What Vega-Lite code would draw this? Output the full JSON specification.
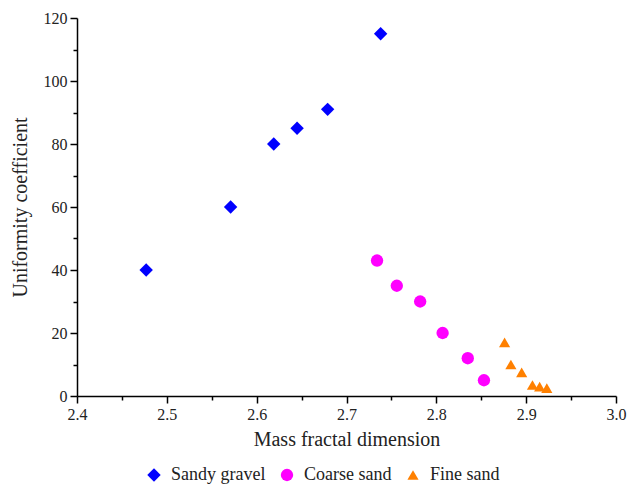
{
  "$schema": "https://vega.github.io/schema/vega-lite/v6.json",
  "width": 539,
  "height": 378,
  "autosize": "none",
  "padding": {"left": 77, "top": 18, "right": 12, "bottom": 92},
  "background": "white",
  "config": {
    "view": {"stroke": null},
    "font": "Liberation Serif",
    "axis": {"labelFont": "Liberation Serif", "titleFont": "Liberation Serif", "domainColor": "black", "tickColor": "black"},
    "legend": {"labelFont": "Liberation Serif"}
  },
  "data": {
    "values": [
      {"x": 2.477, "y": 40, "type": "Sandy gravel"},
      {"x": 2.571, "y": 60, "type": "Sandy gravel"},
      {"x": 2.619, "y": 80, "type": "Sandy gravel"},
      {"x": 2.645, "y": 85, "type": "Sandy gravel"},
      {"x": 2.679, "y": 91, "type": "Sandy gravel"},
      {"x": 2.738, "y": 115, "type": "Sandy gravel"},
      {"x": 2.734, "y": 43, "type": "Coarse sand"},
      {"x": 2.756, "y": 35, "type": "Coarse sand"},
      {"x": 2.782, "y": 30, "type": "Coarse sand"},
      {"x": 2.807, "y": 20, "type": "Coarse sand"},
      {"x": 2.835, "y": 12, "type": "Coarse sand"},
      {"x": 2.853, "y": 5, "type": "Coarse sand"},
      {"x": 2.876, "y": 17, "type": "Fine sand"},
      {"x": 2.883, "y": 10, "type": "Fine sand"},
      {"x": 2.895, "y": 7.5, "type": "Fine sand"},
      {"x": 2.907, "y": 3.5, "type": "Fine sand"},
      {"x": 2.915, "y": 3, "type": "Fine sand"},
      {"x": 2.923, "y": 2.5, "type": "Fine sand"}
    ]
  },
  "resolve": {"axis": {"x": "independent", "y": "independent"}},
  "layer": [
    {
      "mark": {"type": "point", "opacity": 0},
      "encoding": {
        "x": {
          "field": "x", "type": "quantitative",
          "scale": {"domain": [2.4, 3.0], "nice": false, "zero": false},
          "axis": {
            "orient": "bottom", "title": null, "labels": false, "domain": false, "grid": false,
            "values": [2.45, 2.55, 2.65, 2.75, 2.85, 2.95],
            "tickSize": 4, "tickColor": "#000000", "tickWidth": 1.5
          }
        },
        "y": {
          "field": "y", "type": "quantitative",
          "scale": {"domain": [0, 120], "nice": false},
          "axis": {
            "orient": "left", "title": null, "labels": false, "domain": false, "grid": false,
            "values": [10, 30, 50, 70, 90, 110],
            "tickSize": 4, "tickColor": "#000000", "tickWidth": 1.5
          }
        }
      }
    },
    {
      "mark": {"type": "point", "filled": true, "opacity": 1},
      "encoding": {
        "x": {
          "field": "x", "type": "quantitative",
          "scale": {"domain": [2.4, 3.0], "nice": false, "zero": false},
          "axis": {
            "orient": "bottom",
            "title": "Mass fractal dimension",
            "titleFontSize": 20, "titleFontWeight": "normal", "titleColor": "#222", "titlePadding": 7,
            "values": [2.4, 2.5, 2.6, 2.7, 2.8, 2.9, 3.0],
            "format": ".1f",
            "labelFontSize": 16, "labelColor": "#222", "labelPadding": 3,
            "tickSize": 7, "tickColor": "#000000", "tickWidth": 1.5, "tickOpacity": 1,
            "domainColor": "#000000", "domainWidth": 1.5, "domainOpacity": 1,
            "grid": false, "labelFlush": false, "labelOverlap": false
          }
        },
        "y": {
          "field": "y", "type": "quantitative",
          "scale": {"domain": [0, 120], "nice": false},
          "axis": {
            "orient": "left",
            "title": "Uniformity coefficient",
            "titleFontSize": 20, "titleFontWeight": "normal", "titleColor": "#222", "titlePadding": 13,
            "values": [0, 20, 40, 60, 80, 100, 120],
            "format": "d",
            "labelFontSize": 16, "labelColor": "#222", "labelPadding": 3,
            "tickSize": 7, "tickColor": "#000000", "tickWidth": 1.5, "tickOpacity": 1,
            "domainColor": "#000000", "domainWidth": 1.5, "domainOpacity": 1,
            "grid": false, "labelFlush": false, "labelOverlap": false
          }
        },
        "size": {
          "field": "type", "type": "nominal",
          "scale": {"domain": ["Sandy gravel", "Coarse sand", "Fine sand"], "range": [180, 125, 190]},
          "legend": null
        },
        "color": {
          "field": "type", "type": "nominal",
          "scale": {"domain": ["Sandy gravel", "Coarse sand", "Fine sand"], "range": ["#0000FF", "#FF00FF", "#FF8000"]},
          "legend": {
            "orient": "none", "direction": "horizontal", "legendX": 68, "legendY": 448,
            "title": null, "labelFontSize": 18, "labelColor": "#222",
            "symbolSize": 150, "symbolStrokeWidth": 0, "columnPadding": 12, "labelOffset": 8
          }
        },
        "shape": {
          "field": "type", "type": "nominal",
          "scale": {"domain": ["Sandy gravel", "Coarse sand", "Fine sand"], "range": ["diamond", "circle", "triangle-up"]},
          "legend": null
        }
      }
    }
  ]
}
